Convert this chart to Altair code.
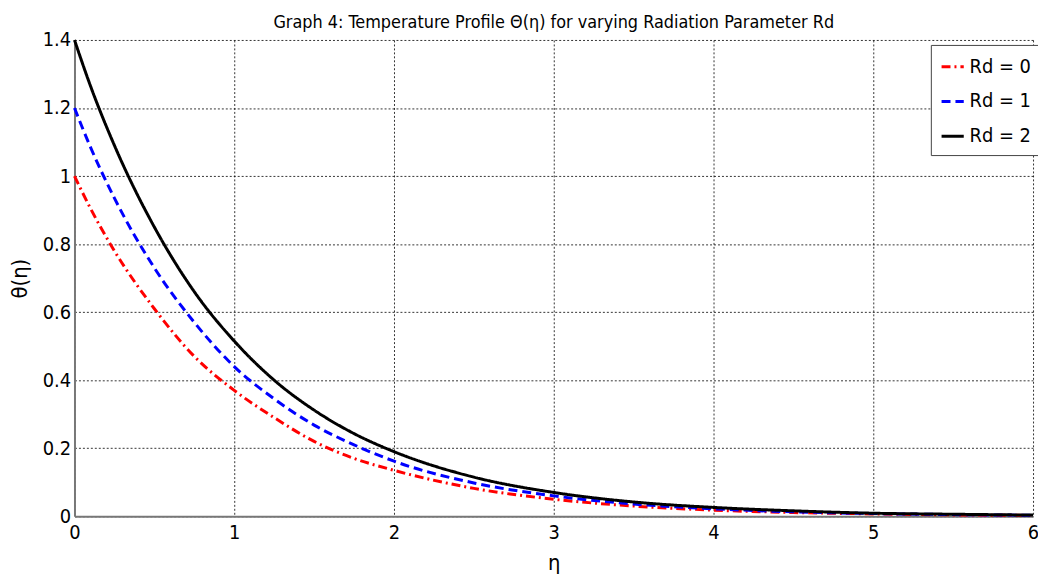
import altair as alt
import pandas as pd

eta = [0, 0.1, 0.25, 0.5, 0.75, 1, 1.25, 1.5, 1.75, 2, 2.5, 3, 3.5, 4, 4.5, 5, 5.5, 6]
rd0 = [1.0, 0.905, 0.78, 0.61, 0.47, 0.37, 0.29, 0.22, 0.17, 0.135, 0.082, 0.05, 0.03, 0.018, 0.011, 0.007, 0.004, 0.0025]
rd1 = [1.2, 1.085, 0.935, 0.73, 0.57, 0.44, 0.345, 0.268, 0.21, 0.162, 0.098, 0.06, 0.036, 0.022, 0.013, 0.008, 0.005, 0.003]
rd2 = [1.4, 1.265, 1.09, 0.85, 0.66, 0.515, 0.40, 0.312, 0.243, 0.19, 0.115, 0.07, 0.042, 0.026, 0.016, 0.009, 0.006, 0.0035]
series = ["Rd = 0", "Rd = 1", "Rd = 2"]
colors = ["#ff0000", "#0000ff", "#000000"]
dashes = [[9, 4, 2, 4], [9, 5], [1, 0]]
x_ticks = [0, 1, 2, 3, 4, 5, 6]
y_ticks = [0, 0.2, 0.4, 0.6, 0.8, 1, 1.2, 1.4]

rows = []
for name, vals in zip(series, [rd0, rd1, rd2]):
    for e, v in zip(eta, vals):
        rows.append({"eta": e, "theta": v, "series": name})
df = pd.DataFrame(rows)

FONT = "DejaVu Sans Condensed"

legend_kw = dict(title=None, orient="none", legendX=863, legendY=5,
                 symbolType="stroke", symbolStrokeWidth=3, symbolSize=500,
                 labelFont=FONT, labelFontSize=20, labelColor="#000",
                 fillColor="white", strokeColor="#444", padding=9,
                 rowPadding=12, labelLimit=200)

chart = alt.Chart(df).mark_line(strokeWidth=3, interpolate="monotone").encode(
    x=alt.X("eta:Q", scale=alt.Scale(domain=[0, 6], nice=False),
            axis=alt.Axis(title="η", values=x_ticks, format="d", labelFlush=False,
                          titleX=483, titleY=47, titleBaseline="middle", titleAlign="center")),
    y=alt.Y("theta:Q", scale=alt.Scale(domain=[0, 1.4], nice=False),
            axis=alt.Axis(title="θ(η)", values=y_ticks, format="~g", labelFlush=False,
                          titleX=-55, titleY=240, titleAngle=-90,
                          titleBaseline="middle", titleAlign="center")),
    color=alt.Color("series:N", scale=alt.Scale(domain=series, range=colors),
                    legend=alt.Legend(**legend_kw)),
    strokeDash=alt.StrokeDash("series:N", scale=alt.Scale(domain=series, range=dashes),
                              legend=alt.Legend(**legend_kw)),
).properties(
    width=966, height=480,
    title=alt.TitleParams("Graph 4: Temperature Profile Θ(η) for varying Radiation Parameter Rd",
                          font=FONT, fontSize=18, fontWeight="normal", color="#000",
                          offset=-2),
    autosize=alt.AutoSizeParams(type="none"),
    padding={"left": 67, "top": 30, "right": 5, "bottom": 61},
).configure_view(stroke=None).configure_axis(
    labelFont=FONT, labelFontSize=20, labelColor="#000",
    titleFont=FONT, titleFontSize=22, titleFontWeight="normal", titleColor="#000",
    grid=True, gridColor="#000", gridDash=[2, 2], gridWidth=1, gridOpacity=0.8,
    domainColor="#777", domainWidth=2, ticks=False,
).configure_axisX(labelPadding=6).configure_axisY(labelPadding=4)

chart.save("out.html", embed_options={"renderer": "svg", "actions": False})
